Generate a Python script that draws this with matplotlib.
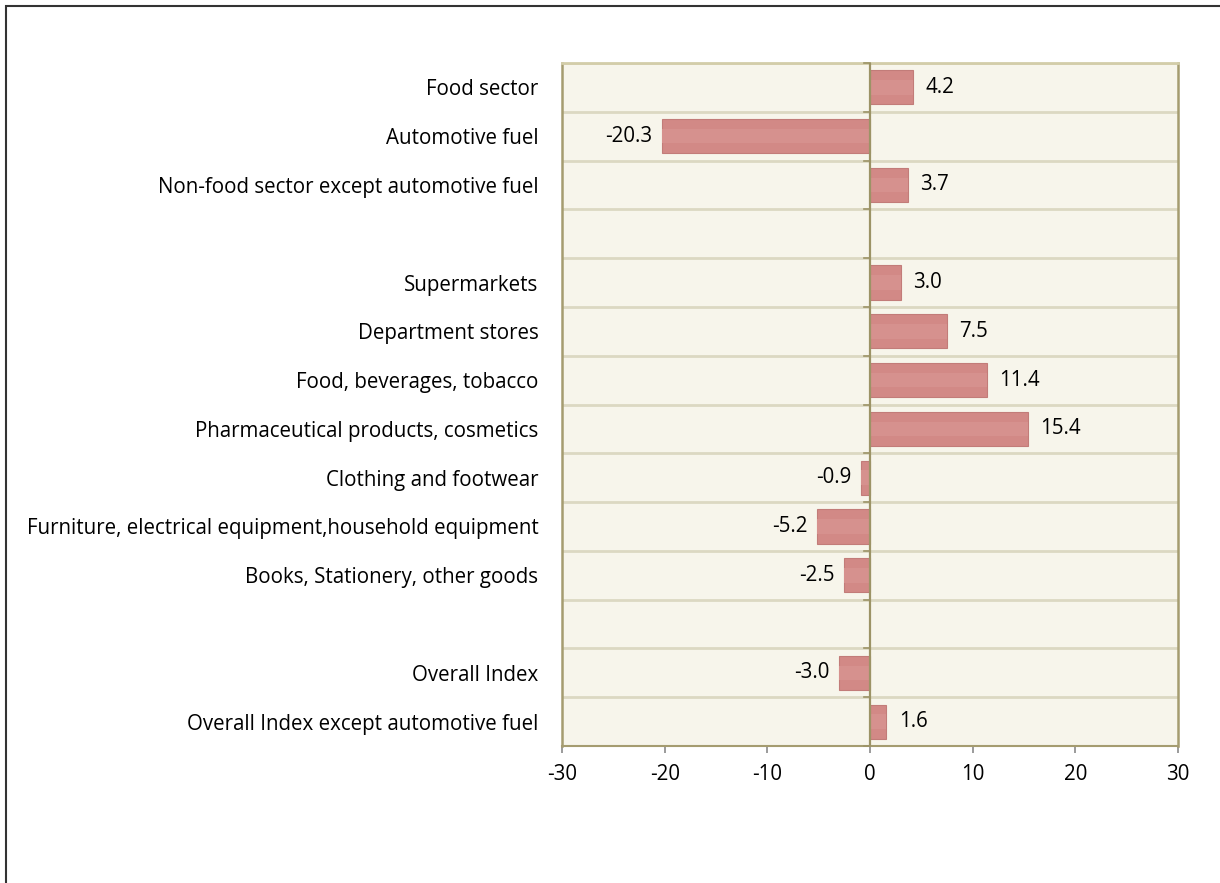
import numpy as np
import matplotlib.pyplot as plt
from matplotlib.patches import Rectangle

# Datos (de arriba hacia abajo; None = fila vacía)
categories = ['Food sector', 'Automotive fuel', 'Non-food sector except automotive fuel', '',
              'Supermarkets', 'Department stores', 'Food, beverages, tobacco',
              'Pharmaceutical products, cosmetics', 'Clothing and footwear',
              'Furniture, electrical equipment,household equipment',
              'Books, Stationery, other goods', '',
              'Overall Index', 'Overall Index except automotive fuel']
values = [4.2, -20.3, 3.7, None, 3.0, 7.5, 11.4, 15.4, -0.9, -5.2, -2.5, None, -3.0, 1.6]
xticks = [-30, -20, -10, 0, 10, 20, 30]

plt.rcParams['font.family'] = ['Open Sans', 'DejaVu Sans']
fs = 14.8

fig = plt.figure(figsize=(12.2, 8.83), dpi=100)
ax = fig.add_axes([562 / 1220, 1 - 746 / 883, 616 / 1220, 683 / 883])

n = len(categories)
y = np.arange(n)
bar_color = '#d28986'
for i, v in enumerate(values):
    if v is None:
        continue
    ax.barh(y[i], v, height=0.7, color=bar_color, edgecolor='#c27c79', linewidth=0.8, zorder=3)
    # franja clara para imitar el degradado
    ax.barh(y[i], v, height=0.3, color='#d6918e', linewidth=0, zorder=4)
    if v >= 0:
        ax.text(v + 1.2, y[i], f'{v:.1f}', va='center', ha='left', fontsize=fs, zorder=5)
    else:
        ax.text(v - 0.9, y[i], f'{v:.1f}', va='center', ha='right', fontsize=fs, zorder=5)

ax.set_xlim(-30, 30)
ax.set_ylim(n - 0.5, -0.5)
ax.set_facecolor('#f7f5eb')

# líneas horizontales entre filas
for b in np.arange(-0.5, n, 1.0):
    ax.axhline(b, color='#dcd8c2', linewidth=2.0, zorder=1)
ax.axvline(0, color='#9c9366', linewidth=1.6, zorder=6)

# marcas del eje en el cero
for b in np.arange(-0.5, n, 1.0):
    ax.plot([-0.6, 0], [b, b], color='#9c9366', linewidth=1.2, zorder=6, clip_on=False)

for s in ['left', 'right']:
    ax.spines[s].set_color('#a59c70')
    ax.spines[s].set_linewidth(1.8)
ax.spines['top'].set_color('#d3cda9')
ax.spines['top'].set_linewidth(2.0)
ax.spines['bottom'].set_color('#a59c70')
ax.spines['bottom'].set_linewidth(1.5)

ax.set_xticks(xticks)
ax.set_xticklabels([str(t) for t in xticks], fontsize=fs)
ax.tick_params(axis='x', length=5, width=1.2, color='#8a8a8a', pad=8)
ax.set_yticks(y)
ax.set_yticklabels(categories, fontsize=fs)
ax.tick_params(axis='y', length=0, pad=17)

# marco de la figura
fig.patches.append(Rectangle((6 / 1220, -0.1), 1.2, 1 - 6 / 883 + 0.1, transform=fig.transFigure,
                             fill=False, edgecolor='#333333', linewidth=1.5))

fig.savefig('out.png', dpi=100)
